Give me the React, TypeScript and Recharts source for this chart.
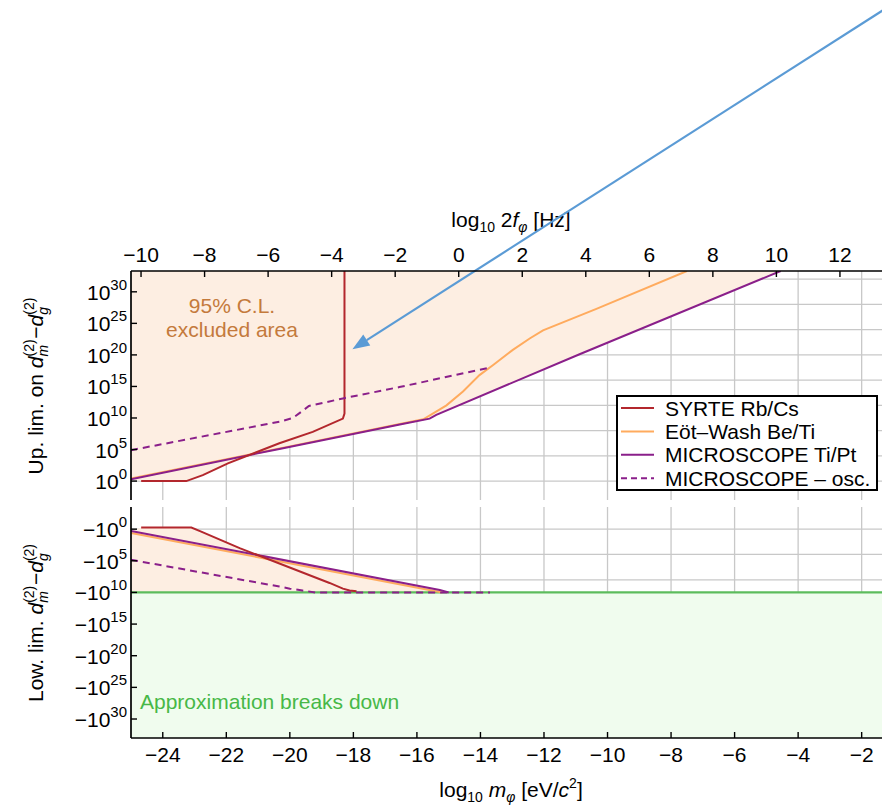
import React from "react";
import {
  ComposedChart,
  Line,
  Area,
  XAxis,
  YAxis,
  CartesianGrid,
  ReferenceLine,
} from "recharts";

// ---- data ----
// x: log10 m_phi [eV/c^2]; y: exponent of the limit
const massTicks = [-24, -22, -20, -18, -16, -14, -12, -10, -8, -6, -4, -2];
const freqTicks = [-10, -8, -6, -4, -2, 0, 2, 4, 6, 8, 10, 12];
const expTicks = [0, 5, 10, 15, 20, 25, 30];
const gridExp = [0, 4, 8, 12, 16, 20, 24, 28, 32];
const FREQ_OFFSET = 14.684; // log10(2 f) = log10(m) + log10(2 c^2 / h)

const seriesNames = ["SYRTE Rb/Cs", "Eöt–Wash Be/Ti", "MICROSCOPE Ti/Pt", "MICROSCOPE – osc."];

// upper limits
const syrteUp = [[-24.68, 0], [-23.26, 0], [-22.74, 0.95], [-21.95, 2.8], [-20.33, 6.0], [-19.28, 7.8], [-18.33, 9.9], [-18.28, 10.7], [-18.28, 33.3]];
const eotUp = [[-25, 0.4], [-20, 5.5], [-16.5, 9.1], [-15.8, 9.8], [-15.07, 12.0], [-14.55, 14.2], [-14.03, 16.8], [-13.6, 18.4], [-12.98, 20.8], [-12.45, 22.6], [-12.03, 23.9], [-10.35, 27.3], [-7.5, 33.3]];
const microUp = [[-25, 0.3], [-20.33, 5.1], [-16.5, 9.0], [-15.6, 9.9], [-15.39, 10.5], [-10.88, 20.1], [-4.55, 33.3]];
const oscUp = [[-25, 4.9], [-20.33, 9.4], [-19.9, 10.0], [-19.4, 11.9], [-18.33, 13.1], [-16.55, 14.9], [-13.7, 18.0]];
const excludedUpFloor = [[-25, 0.3], [-24.68, 0], [-23.26, 0], [-22.74, 0.95], [-21.95, 2.8], [-21.3, 4.1], [-20.33, 5.1], [-16.5, 9.0], [-15.6, 9.9], [-15.39, 10.5], [-10.88, 20.1], [-4.55, 33.3]];

// lower limits (value is -10^e, e plotted downward)
const syrteLow = [[-24.68, -0.25], [-23.1, -0.25], [-22.79, 0.38], [-21.58, 3.0], [-18.75, 8.5], [-18.33, 9.4], [-18.12, 9.7], [-17.9, 9.8]];
const eotLow = [[-25, 0.6], [-15.2, 10.0]];
const microLow = [[-25, 0.27], [-15.28, 9.6], [-15.0, 10.0]];
const oscLow = [[-25, 4.85], [-20.33, 9.07], [-20, 9.4], [-19.6, 9.7], [-19.2, 10.0], [-13.7, 10.0]];
const excludedLowCeil = [[-25, 0.27], [-24.68, -0.25], [-23.1, -0.25], [-22.79, 0.38], [-21.2, 3.7], [-15.28, 9.6], [-15.0, 10.0]];
const BREAKDOWN_EXP = 10;

const X_DOMAIN: [number, number] = [-25, -1.36];
const UP_DOMAIN: [number, number] = [-3, 33.3];
const LOW_DOMAIN: [number, number] = [-3.5, 33];

const arrowFrom = { m: -1.0, v: 75.7 };
const arrowTo = { m: -18.03, v: 20.9 };

// ---- styles ----
const FONT = "'Liberation Sans', Arial, Helvetica, sans-serif";
const TICK_FONT = 21;
const C_SYRTE = "#b3272d";
const C_EOT = "#ffab5e";
const C_MICRO = "#8a1f8a";
const C_PEACH = "#fdeee2";
const C_GREEN_FILL = "#f0fcee";
const C_GREEN = "#5cbc5c";
const C_GRID = "#c8c8c8";
const C_ARROW = "#5b9bd5";
const AXIS = { stroke: "#000", strokeWidth: 1.7 };

const pts = (arr: number[][]) => arr.map(([m, v]) => ({ m, v }));
const band = (arr: number[][], other: number) => arr.map(([m, v]) => ({ m, r: [v, other] }));
const minus = (n: number) => (n < 0 ? "\u2212" + Math.abs(n) : String(n));

const topTick = (withLabel: boolean) => (props: any) => {
  const { x, y, payload } = props;
  return (
    <g>
      <line x1={x} x2={x} y1={y} y2={y + 6} stroke="#000" strokeWidth={1.4} />
      {withLabel && (
        <text x={x} y={y - 9.5} textAnchor="middle" fontSize={TICK_FONT} fontFamily={FONT} fill="#000">
          {minus(Math.round(payload.value + FREQ_OFFSET))}
        </text>
      )}
    </g>
  );
};

const bottomTick = (withLabel: boolean) => (props: any) => {
  const { x, y, payload } = props;
  return (
    <g>
      <line x1={x} x2={x} y1={y} y2={y - 6} stroke="#000" strokeWidth={1.4} />
      {withLabel && (
        <text x={x} y={y + 23.7} textAnchor="middle" fontSize={TICK_FONT} fontFamily={FONT} fill="#000">
          {minus(payload.value)}
        </text>
      )}
    </g>
  );
};

const expTick = (prefix: string) => (props: any) => {
  const { x, y, payload } = props;
  return (
    <g>
      <line x1={x} x2={x + 6} y1={y} y2={y} stroke="#000" strokeWidth={1.4} />
      <text x={x - 4} y={y + 8} textAnchor="end" fontSize={TICK_FONT} fontFamily={FONT} fill="#000">
        {prefix}
        <tspan fontSize={15} dy={-10}>{payload.value}</tspan>
      </text>
    </g>
  );
};

const arrowShape = (p: any) => {
  const { x1, y1, x2, y2 } = p;
  const dx = x2 - x1;
  const dy = y2 - y1;
  const len = Math.hypot(dx, dy) || 1;
  const ux = dx / len;
  const uy = dy / len;
  const hl = 17;
  const hw = 6.5;
  const bx = x2 - ux * hl;
  const by = y2 - uy * hl;
  return (
    <g>
      <line x1={x1} y1={y1} x2={bx} y2={by} stroke={C_ARROW} strokeWidth={2.2} />
      <polygon
        points={`${x2},${y2} ${bx - uy * hw},${by + ux * hw} ${bx + uy * hw},${by - ux * hw}`}
        fill={C_ARROW}
      />
    </g>
  );
};

const lineProps = {
  type: "linear" as const,
  dataKey: "v",
  dot: false,
  activeDot: false,
  isAnimationActive: false,
};

function UpperPanel() {
  return (
    <ComposedChart width={882} height={501} margin={{ top: 231, right: 0, bottom: 1, left: 0 }}>
      <CartesianGrid verticalValues={massTicks} horizontalValues={gridExp} stroke={C_GRID} strokeWidth={1.3} />
      <XAxis
        xAxisId="top"
        orientation="top"
        type="number"
        dataKey="m"
        domain={X_DOMAIN}
        allowDataOverflow
        ticks={freqTicks.map((f) => f - FREQ_OFFSET)}
        interval={0}
        height={40}
        tickSize={0}
        tickMargin={0}
        tickLine={false}
        axisLine={AXIS}
        tick={topTick(true)}
      />
      <XAxis
        type="number"
        dataKey="m"
        domain={X_DOMAIN}
        allowDataOverflow
        ticks={massTicks}
        interval={0}
        height={0}
        tickSize={0}
        tickMargin={0}
        tickLine={false}
        axisLine={AXIS}
        tick={bottomTick(false)}
      />
      <YAxis
        type="number"
        domain={UP_DOMAIN}
        allowDataOverflow
        ticks={expTicks}
        interval={0}
        width={131}
        tickSize={0}
        tickMargin={0}
        tickLine={false}
        axisLine={AXIS}
        tick={expTick("10")}
      />
      <Area
        data={band(excludedUpFloor, UP_DOMAIN[1])}
        dataKey="r"
        type="linear"
        stroke="none"
        fill={C_PEACH}
        fillOpacity={1}
        dot={false}
        activeDot={false}
        isAnimationActive={false}
      />
      <Line {...lineProps} data={pts(eotUp)} stroke={C_EOT} strokeWidth={2} />
      <Line {...lineProps} data={pts(microUp)} stroke={C_MICRO} strokeWidth={2} />
      <Line {...lineProps} data={pts(syrteUp)} stroke={C_SYRTE} strokeWidth={2} />
      <Line {...lineProps} data={pts(oscUp)} stroke={C_MICRO} strokeWidth={2} strokeDasharray="7 5" />
      <ReferenceLine
        segment={[{ x: arrowFrom.m, y: arrowFrom.v }, { x: arrowTo.m, y: arrowTo.v }]}
        ifOverflow="visible"
        shape={arrowShape}
      />
    </ComposedChart>
  );
}

function LowerPanel() {
  return (
    <ComposedChart width={882} height={309} margin={{ top: 6, right: 0, bottom: 0, left: 0 }}>
      <CartesianGrid verticalValues={massTicks} horizontalValues={gridExp} stroke={C_GRID} strokeWidth={1.3} />
      <XAxis
        xAxisId="top"
        orientation="top"
        type="number"
        dataKey="m"
        domain={X_DOMAIN}
        allowDataOverflow
        ticks={freqTicks.map((f) => f - FREQ_OFFSET)}
        interval={0}
        height={0}
        tickSize={0}
        tickMargin={0}
        tickLine={false}
        axisLine={AXIS}
        tick={topTick(false)}
      />
      <XAxis
        type="number"
        dataKey="m"
        domain={X_DOMAIN}
        allowDataOverflow
        ticks={massTicks}
        interval={0}
        height={72}
        tickSize={0}
        tickMargin={0}
        tickLine={false}
        axisLine={AXIS}
        tick={bottomTick(true)}
      />
      <YAxis
        type="number"
        domain={LOW_DOMAIN}
        reversed
        allowDataOverflow
        ticks={expTicks}
        interval={0}
        width={131}
        tickSize={0}
        tickMargin={0}
        tickLine={false}
        axisLine={AXIS}
        tick={expTick("\u221210")}
      />
      <Area
        data={band(excludedLowCeil, BREAKDOWN_EXP)}
        dataKey="r"
        type="linear"
        stroke="none"
        fill={C_PEACH}
        fillOpacity={1}
        dot={false}
        activeDot={false}
        isAnimationActive={false}
      />
      <Area
        data={band([[X_DOMAIN[0], BREAKDOWN_EXP], [X_DOMAIN[1], BREAKDOWN_EXP]], LOW_DOMAIN[1])}
        dataKey="r"
        type="linear"
        stroke="none"
        fill={C_GREEN_FILL}
        fillOpacity={1}
        dot={false}
        activeDot={false}
        isAnimationActive={false}
      />
      <Line {...lineProps} data={pts([[X_DOMAIN[0], BREAKDOWN_EXP], [X_DOMAIN[1], BREAKDOWN_EXP]])} stroke={C_GREEN} strokeWidth={2.2} />
      <Line {...lineProps} data={pts(eotLow)} stroke={C_EOT} strokeWidth={2} />
      <Line {...lineProps} data={pts(microLow)} stroke={C_MICRO} strokeWidth={2} />
      <Line {...lineProps} data={pts(syrteLow)} stroke={C_SYRTE} strokeWidth={2} />
      <Line {...lineProps} data={pts(oscLow)} stroke={C_MICRO} strokeWidth={2} strokeDasharray="7 5" />
    </ComposedChart>
  );
}

function Titles() {
  const sub = { fontSize: 14 };
  return (
    <svg width={882} height={810} style={{ position: "absolute", left: 0, top: 0 }} fontFamily={FONT} fill="#000">
      <text x={511} y={227} textAnchor="middle" fontSize={21}>
        log<tspan {...sub} dy={5}>10</tspan>
        <tspan dy={-5}>{"\u00a02"}</tspan>
        <tspan fontStyle="italic">f</tspan>
        <tspan {...sub} dy={5} fontStyle="italic">φ</tspan>
        <tspan dy={-5}>{"\u00a0[Hz]"}</tspan>
      </text>
      <text x={511} y={797} textAnchor="middle" fontSize={21}>
        log<tspan {...sub} dy={5}>10</tspan>
        <tspan dy={-5}>{"\u00a0"}</tspan>
        <tspan fontStyle="italic">m</tspan>
        <tspan {...sub} dy={5} fontStyle="italic">φ</tspan>
        <tspan dy={-5}>{"\u00a0[eV/"}</tspan>
        <tspan fontStyle="italic">c</tspan>
        <tspan {...sub} dy={-9}>2</tspan>
        <tspan dy={9}>]</tspan>
      </text>
      <text transform="translate(43,386) rotate(-90)" textAnchor="middle" fontSize={21}>
        {"Up. lim. on\u00a0"}
        <tspan fontStyle="italic">d</tspan>
        <tspan {...sub} dy={-9}>(2)</tspan>
        <tspan {...sub} dx={-17} dy={14} fontStyle="italic">m</tspan>
        <tspan dx={6} dy={-5}>{"\u2212"}</tspan>
        <tspan fontStyle="italic">d</tspan>
        <tspan {...sub} dy={-9}>(2)</tspan>
        <tspan {...sub} dx={-17} dy={14} fontStyle="italic">g</tspan>
      </text>
      <text transform="translate(43,623) rotate(-90)" textAnchor="middle" fontSize={21}>
        {"Low. lim.\u00a0"}
        <tspan fontStyle="italic">d</tspan>
        <tspan {...sub} dy={-9}>(2)</tspan>
        <tspan {...sub} dx={-17} dy={14} fontStyle="italic">m</tspan>
        <tspan dx={6} dy={-5}>{"\u2212"}</tspan>
        <tspan fontStyle="italic">d</tspan>
        <tspan {...sub} dy={-9}>(2)</tspan>
        <tspan {...sub} dx={-17} dy={14} fontStyle="italic">g</tspan>
      </text>
    </svg>
  );
}

function Annotations() {
  return (
    <svg width={882} height={810} style={{ position: "absolute", left: 0, top: 0, pointerEvents: "none" }} fontFamily={FONT}>
      <text x={232} y={312.5} textAnchor="middle" fontSize={21} fill="#c47a3c">95% C.L.</text>
      <text x={232} y={337} textAnchor="middle" fontSize={21} fill="#c47a3c">excluded area</text>
      <text x={140} y={709} fontSize={21} fill="#47b847">Approximation breaks down</text>
    </svg>
  );
}

function LegendBox() {
  const strokes = [C_SYRTE, C_EOT, C_MICRO, C_MICRO];
  const dashes = [undefined, undefined, undefined, "6 4"];
  return (
    <svg width={262} height={96} style={{ position: "absolute", left: 616, top: 395 }} fontFamily={FONT}>
      <rect x={1} y={1} width={260} height={94} fill="#fff" stroke="#000" strokeWidth={2} />
      {seriesNames.map((name, i) => {
        const cy = 13 + i * 23.4;
        return (
          <g key={name}>
            <line x1={5} x2={38} y1={cy} y2={cy} stroke={strokes[i]} strokeWidth={2} strokeDasharray={dashes[i]} />
            <text x={49} y={cy + 7.5} fontSize={21} fill="#000">{name}</text>
          </g>
        );
      })}
    </svg>
  );
}

export default function App() {
  return (
    <div style={{ position: "absolute", left: 0, top: 0, width: 882, height: 810, overflow: "hidden", background: "#fff" }}>
      <Titles />
      <div style={{ position: "absolute", left: 0, top: 0 }}>
        <UpperPanel />
      </div>
      <div style={{ position: "absolute", left: 0, top: 501 }}>
        <LowerPanel />
      </div>
      <Annotations />
      <LegendBox />
    </div>
  );
}
